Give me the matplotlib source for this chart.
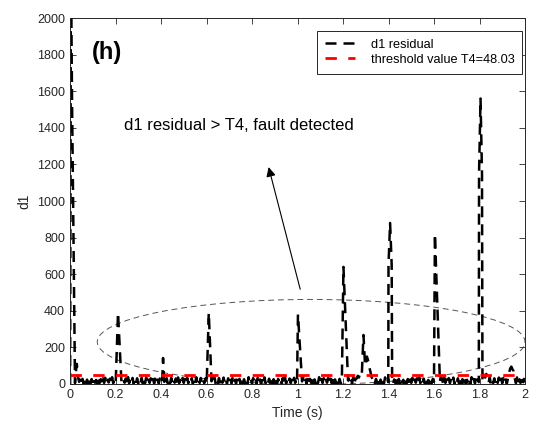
import numpy as np
import matplotlib
matplotlib.use("Agg")
import matplotlib.pyplot as plt
from matplotlib.patches import Ellipse

plt.rcParams['font.family'] = ['Liberation Sans', 'DejaVu Sans']
plt.rcParams['path.simplify'] = False  # keep every noise sample

# baseline noise of the d1 residual, one value every 0.005 s from 0 to 2 s
base_v = [0, 5, 3, 8, 30, 60, 110, 40, 12, 32, 4, 28, 2, 35, 6, 24, 1, 33, 5, 27,
          3, 30, 7, 22, 2, 36, 5, 26, 1, 31, 6, 34, 3, 23, 8, 29, 2, 37, 4, 25,
          6, 32, 1, 27, 5, 35, 3, 24, 7, 30, 2, 38, 4, 26, 6, 33, 1, 28, 5, 31,
          3, 25, 7, 34, 2, 29, 5, 36, 1, 23, 6, 31, 4, 27, 2, 35, 7, 24, 3, 30,
          5, 37, 1, 26, 6, 32, 3, 28, 4, 34, 2, 25, 7, 30, 1, 36, 5, 22, 3, 33,
          6, 27, 2, 35, 4, 24, 7, 31, 1, 29, 5, 37, 3, 26, 6, 33, 2, 23, 4, 30,
          1, 34, 5, 28, 45, 55, 30, 36, 3, 25, 6, 32, 2, 27, 7, 35, 4, 24, 1, 31,
          5, 29, 3, 36, 6, 23, 2, 33, 7, 28, 1, 35, 4, 26, 5, 30, 2, 37, 6, 24,
          3, 32, 7, 27, 1, 34, 5, 25, 2, 31, 6, 36, 4, 22, 3, 29, 7, 33, 1, 26,
          5, 35, 2, 28, 6, 24, 3, 32, 4, 37, 1, 27, 7, 30, 5, 23, 2, 34, 6, 29,
          3, 31, 1, 26, 5, 36, 7, 24, 2, 33, 4, 28, 6, 35, 1, 25, 3, 30, 5, 37,
          2, 27, 6, 32, 4, 23, 7, 34, 1, 29, 5, 36, 3, 25, 2, 31, 6, 28, 4, 33,
          7, 24, 1, 35, 5, 30, 3, 26, 6, 37, 2, 28, 30, 45, 35, 60, 50, 85, 70, 100,
          110, 150, 130, 95, 70, 40, 25, 32, 4, 27, 6, 34, 1, 24, 5, 31, 3, 36, 7, 26,
          2, 29, 5, 33, 1, 25, 6, 35, 3, 28, 4, 30, 7, 23, 2, 37, 5, 27, 1, 32,
          6, 34, 3, 24, 7, 31, 2, 36, 4, 26, 5, 29, 1, 33, 6, 22, 3, 35, 4, 28,
          7, 30, 1, 27, 5, 34, 40, 30, 2, 37, 6, 25, 3, 32, 4, 28, 7, 35, 1, 24,
          5, 31, 3, 36, 6, 26, 2, 33, 4, 23, 7, 29, 1, 37, 5, 27, 3, 32, 6, 25,
          2, 34, 4, 28, 50, 35, 55, 30, 7, 36, 1, 24, 5, 31, 3, 27, 6, 35, 2, 29,
          4, 33, 7, 25, 1, 30, 60, 85, 95, 80, 70, 30, 5, 36, 3, 26, 6, 32, 2, 28,
          10]
base_t = [round(i * 0.005, 3) for i in range(len(base_v))]

# fault spikes (time, value)
spike_t = [
    [0.0005, 0.004, 0.009, 0.022],
    [0.201, 0.211, 0.226],
    [0.405, 0.409, 0.414],
    [0.601, 0.610, 0.622],
    [0.998, 1.002, 1.020],
    [1.195, 1.202, 1.222],
    [1.283, 1.290, 1.297],
    [1.399, 1.400, 1.407, 1.414, 1.416],
    [1.600, 1.604, 1.626],
    [1.797, 1.798, 1.8045, 1.811, 1.813],
]
spike_v = [
    [0, 2300, 1550, 5],
    [12, 390, 15],
    [10, 142, 12],
    [10, 390, 15],
    [12, 380, 14],
    [15, 640, 20],
    [60, 268, 100],
    [10, 650, 880, 650, 12],
    [12, 820, 15],
    [10, 1150, 1560, 1150, 15],
]

threshold = 48.03

# merge baseline and spikes
pts = []
for t, v in zip(base_t, base_v):
    if any(st[0] <= t <= st[-1] for st in spike_t):
        continue
    pts.append((t, v))
for st, sv in zip(spike_t, spike_v):
    pts.extend(zip(st, sv))
pts.sort(key=lambda p: p[0])
time = np.array([p[0] for p in pts])
d1 = np.array([p[1] for p in pts])

fig = plt.figure(figsize=(5.39, 4.33), dpi=100)
ax = fig.add_axes([70 / 539, 1 - 384 / 433, 455 / 539, 366 / 433])

ax.plot(time, d1, color='black', lw=1.8, ls=(0, (4.4, 2.8)), label='d1 residual')
ax.plot([0, 2], [threshold, threshold], color='red', lw=2, ls=(0, (4.1, 4.1)),
        label='threshold value T4=48.03')

ax.add_patch(Ellipse((1.06, 230), 1.88, 464, fill=False, ls=(0, (6, 4)),
                     lw=0.7, ec='#555555', clip_on=False))
ax.annotate('', xy=(0.87, 1200), xytext=(1.015, 503),
            arrowprops=dict(arrowstyle='-|>', color='black', lw=0.8,
                            mutation_scale=14))
ax.text(0.237, 1410, 'd1 residual > T4, fault detected', fontsize=12,
        va='center', ha='left')
ax.text(0.097, 1814, '(h)', fontsize=17, fontweight='bold', va='center')

ax.set_xlim(0, 2)
ax.set_ylim(0, 2000)
ax.set_xticks(np.arange(0, 2.01, 0.2))
ax.set_xticklabels(['0', '0.2', '0.4', '0.6', '0.8', '1', '1.2', '1.4', '1.6', '1.8', '2'])
ax.set_yticks(np.arange(0, 2001, 200))
ax.tick_params(direction='in', length=4, width=0.6, colors='#262626',
               labelsize=9, top=True, right=True)
for s in ax.spines.values():
    s.set_color('#262626')
    s.set_linewidth(0.7)
ax.set_xlabel('Time (s)', fontsize=10, color='#262626')
ax.set_ylabel('d1', fontsize=10, color='#262626')

leg = ax.legend(loc='upper right', bbox_to_anchor=(1 - 3 / 455, 1 - 13 / 366),
                borderaxespad=0, fontsize=9.2, fancybox=False, framealpha=1,
                edgecolor='#262626', handlelength=2.4, handletextpad=1.2,
                borderpad=0.6, labelspacing=0.25)
leg.get_frame().set_linewidth(0.7)

fig.savefig('out.png', dpi=100)
